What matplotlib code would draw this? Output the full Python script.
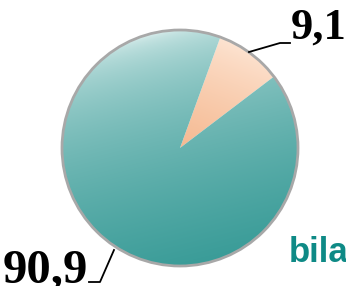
import numpy as np
import matplotlib
matplotlib.use("Agg")
from matplotlib import pyplot as plt
from matplotlib.colors import to_rgb

# Data
shares = [9.1, 90.9]
share_labels = ["9,1", "90,9"]
side_text = "bilateral"

# Layout in pixel units (y up)
W, H = 346, 286
cx, cy, r = 180, 138, 118


def gradient_image(light, dark, direction, gamma):
    xs = np.linspace(cx - r, cx + r, 200)
    ys = np.linspace(cy - r, cy + r, 200)
    X, Y = np.meshgrid(xs, ys)
    d = np.array(direction) / np.hypot(*direction)
    t = ((X - cx) * d[0] + (Y - cy) * d[1]) / r
    t = np.clip((t + 1) / 2, 0, 1) ** gamma
    t = t[..., None]
    c0 = np.array(to_rgb(light))
    c1 = np.array(to_rgb(dark))
    return c0 * (1 - t) + c1 * t


fig = plt.figure(figsize=(W / 100, H / 100), dpi=100)
ax = fig.add_axes([0, 0, 1, 1])

wedges, _ = ax.pie(shares, startangle=70, counterclock=False, center=(cx, cy),
                   radius=r, explode=[0.03, 0], frame=True,
                   colors=["#f6b890", "#4fa9a6"],
                   wedgeprops=dict(edgecolor="white", linewidth=1.2))

# soft shading inside each wedge
fills = [("#fde4d2", "#f09a62", (-0.4, -1), 0.8),
         ("#e2f2f1", "#3a9c98", (0.25, -1), 0.45)]
for w, (light, dark, direction, gamma) in zip(wedges, fills):
    img = gradient_image(light, dark, direction, gamma)
    im = ax.imshow(img, extent=(cx - r, cx + r, cy - r, cy + r), origin="lower",
                   zorder=w.get_zorder() + 0.1, interpolation="bilinear")
    im.set_clip_path(w)

# grey rim
rim = plt.Circle((cx, cy), r, fill=False, edgecolor="#a8a8a8", linewidth=2.0, zorder=5)
ax.add_patch(rim)

# leader lines and labels
ax.plot([249, 280, 290], [H - 52, H - 43, H - 43], color="black", lw=1.3, zorder=6)
ax.plot([114, 100, 89], [H - 250, H - 282, H - 282], color="black", lw=1.3, zorder=6)
ax.text(291, H - 28, share_labels[0], fontsize=32, fontweight="bold",
        family="Liberation Serif", va="center", ha="left")
ax.text(3, H - 270, share_labels[1], fontsize=35, fontweight="bold",
        family="Liberation Serif", va="center", ha="left")
ax.text(289, H - 252, side_text, fontsize=25, fontweight="bold",
        family="Liberation Sans", color="#0e8a86", va="center", ha="left")

ax.set_xlim(0, W)
ax.set_ylim(0, H)
ax.set_aspect("equal")
ax.axis("off")

fig.savefig("out.png", dpi=100)
